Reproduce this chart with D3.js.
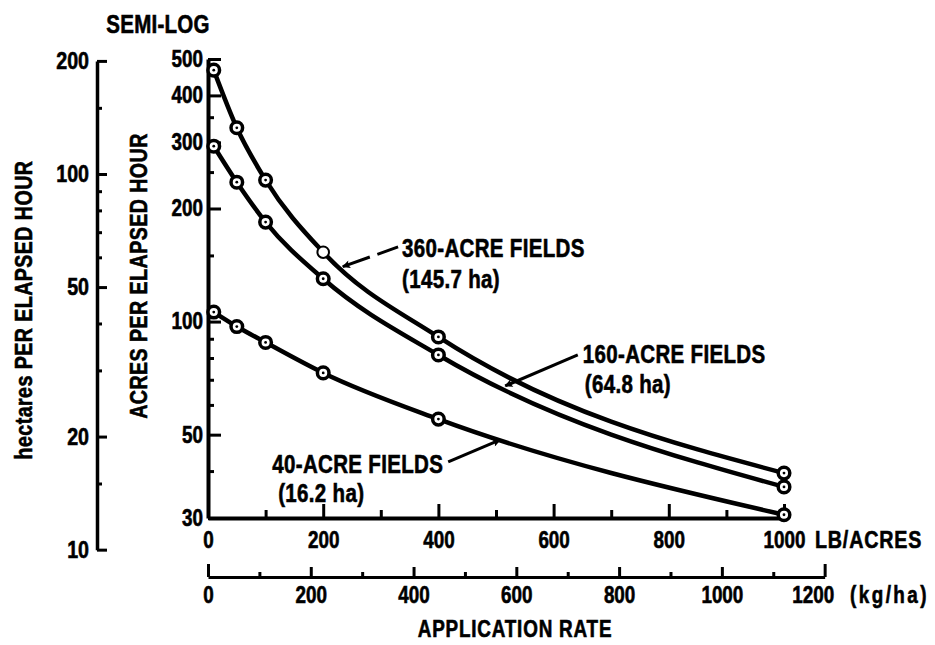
<!DOCTYPE html>
<html><head><meta charset="utf-8">
<script src="https://cdn.jsdelivr.net/npm/d3@7"></script>
<style>
body{margin:0;background:#fff}
svg text{font-family:"Liberation Sans","Arial",sans-serif;font-weight:bold;fill:#000;stroke:#000;stroke-width:0.6px}
</style></head><body>
<svg id="c" width="935" height="645"></svg>
<script>
// ---- data ----
const rates = [10, 50, 100, 200, 400, 1000];           // LB/ACRE
const acres360 = [467, 328, 238, 153, 91, 39.5];
const acres160 = [293, 235, 184, 130, 81.5, 36.3];
const acres40  = [106, 97, 88, 73, 55, 30.6];
const seriesNames = ["360-ACRE FIELDS", "160-ACRE FIELDS", "40-ACRE FIELDS"];
const seriesHa = ["(145.7 ha)", "(64.8 ha)", "(16.2 ha)"];
const yTickLabels = [30, 50, 100, 200, 300, 400, 500];
const yMinorTicks = [40, 60, 70, 80, 90, 150, 250, 350];
const haTickLabels = [10, 20, 50, 100, 200];
const haMinorTicks = [15, 30, 40, 60, 70, 80, 90, 150];
const lbTicks = [0, 200, 400, 600, 800, 1000];
const lbMinorTicks = [100, 300, 500, 700, 900];
const kgTicks = [0, 200, 400, 600, 800, 1000, 1200];
const kgMinorTicks = [100, 300, 500, 700, 900, 1100];
const HA_PER_ACRE = 0.4047;
const KG_PER_LB = 1.1209;
// annotation anchors in data units: [tipRate, tipAcres, tailRate, tailAcres]
const annot360 = [234, 140, 330, 158];
const annot160 = [516, 67.4, 642, 81.5];
const annot40  = [507, 48.4, 417, 42.3];

const SX = 0.82; // horizontal condensing of the bold sans to mimic a condensed face
const svg = d3.select("#c");
const x = d3.scaleLinear().domain([0, 1000]).range([208, 784]);
const y = d3.scaleLog().domain([30, 500]).range([518, 59]);
const yHa = d3.scaleLog().domain([10, 200]).range([y(10 / HA_PER_ACRE), y(200 / HA_PER_ACRE)]);
const xKg = d3.scaleLinear().domain([0, 1200]).range([x(0), x(1200 / KG_PER_LB)]);

function styleAxis(g, w) {
  g.selectAll("path.domain").attr("stroke", "#000").attr("stroke-width", w);
  g.selectAll(".tick line").attr("stroke", "#000").attr("stroke-width", 3);
}
function condense(sel) {
  sel.each(function () {
    const t = d3.select(this);
    const xx = +(t.attr("x") || 0);
    t.attr("x", xx / SX).attr("transform", `scale(${SX},1)`);
  });
}
function addText(px, py, str, size, ls, anchor, rot) {
  return svg.append("text")
    .attr("transform", `translate(${px},${py})${rot ? " rotate(" + rot + ")" : ""} scale(${SX},1)`)
    .attr("text-anchor", anchor || "start").attr("font-size", size)
    .attr("letter-spacing", ls).text(str);
}

// defs: arrowhead
svg.append("defs").append("marker").attr("id", "ah")
  .attr("viewBox", "0 0 10 10").attr("refX", 9).attr("refY", 5)
  .attr("markerWidth", 16).attr("markerHeight", 8).attr("markerUnits", "userSpaceOnUse")
  .attr("orient", "auto")
  .append("path").attr("d", "M0,0 L10,5 L0,10 L2,5 Z").attr("fill", "#000");

// ---- main y axis (acres) ----
const gy = svg.append("g").attr("transform", "translate(208,0)")
  .call(d3.axisRight(y).tickValues(yTickLabels).tickSize(13).tickSizeOuter(0).tickFormat(""));
styleAxis(gy, 4);
const gyMin = svg.append("g").attr("transform", "translate(208,0)")
  .call(d3.axisRight(y).tickValues(yMinorTicks).tickSize(6).tickFormat(""));
gyMin.select("path.domain").remove();
styleAxis(gyMin, 4);
const gyLab = svg.append("g").attr("transform", "translate(208,0)")
  .call(d3.axisLeft(y).tickValues(yTickLabels).tickSize(0).tickPadding(5).tickFormat(d3.format("d")));
gyLab.select("path.domain").remove();
gyLab.selectAll("text").attr("font-size", 23).attr("fill", "#000");
condense(gyLab.selectAll("text"));

// ---- left y axis (hectares) ----
const gh = svg.append("g").attr("transform", "translate(97,0)")
  .call(d3.axisRight(yHa).tickValues(haTickLabels).tickSize(10).tickSizeOuter(0).tickFormat(""));
styleAxis(gh, 3.5);
const ghMin = svg.append("g").attr("transform", "translate(97,0)")
  .call(d3.axisRight(yHa).tickValues(haMinorTicks).tickSize(5).tickFormat(""));
ghMin.select("path.domain").remove();
styleAxis(ghMin, 3.5);
const ghLab = svg.append("g").attr("transform", "translate(97,0)")
  .call(d3.axisLeft(yHa).tickValues(haTickLabels).tickSize(0).tickPadding(8).tickFormat(d3.format("d")));
ghLab.select("path.domain").remove();
ghLab.selectAll("text").attr("font-size", 24).attr("fill", "#000");
condense(ghLab.selectAll("text"));

// ---- x axis (LB/ACRES) ----
const gx = svg.append("g").attr("transform", "translate(0,518)")
  .call(d3.axisTop(x).tickValues(lbTicks.filter(d => d > 0)).tickSize(14).tickSizeOuter(0).tickFormat(""));
styleAxis(gx, 4);
const gxMin = svg.append("g").attr("transform", "translate(0,518)")
  .call(d3.axisTop(x).tickValues(lbMinorTicks).tickSize(8).tickFormat(""));
gxMin.select("path.domain").remove();
styleAxis(gxMin, 3);
const gxLab = svg.append("g").attr("transform", "translate(0,518)")
  .call(d3.axisBottom(x).tickValues(lbTicks).tickSize(0).tickPadding(14).tickFormat(d3.format("d")));
gxLab.select("path.domain").remove();
gxLab.selectAll("text").attr("font-size", 23).attr("fill", "#000");
condense(gxLab.selectAll("text"));
addText(815, 548, "LB/ACRES", 24, 1);

// ---- kg/ha axis ----
const gk = svg.append("g").attr("transform", "translate(0,577)")
  .call(d3.axisTop(xKg).tickValues(kgTicks).tickSize(10).tickSizeOuter(0).tickFormat(""));
styleAxis(gk, 3);
gk.selectAll(".tick line").filter(d => d === 0 || d === 1200).attr("y2", -13);
const gkMin = svg.append("g").attr("transform", "translate(0,577)")
  .call(d3.axisTop(xKg).tickValues(kgMinorTicks).tickSize(5).tickFormat(""));
gkMin.select("path.domain").remove();
styleAxis(gkMin, 3);
const gkLab = svg.append("g").attr("transform", "translate(0,577)")
  .call(d3.axisBottom(xKg).tickValues(kgTicks).tickSize(0).tickPadding(10).tickFormat(d3.format("d")));
gkLab.select("path.domain").remove();
gkLab.selectAll("text").attr("font-size", 23).attr("fill", "#000");
condense(gkLab.selectAll("text"));
// the last label sits slightly left of its tick in the original
gkLab.selectAll(".tick").filter(d => d === 1200).select("text").attr("dx", -12 / SX);
addText(850, 603, "(kg/ha)", 23, 3);
addText(515, 637, "APPLICATION RATE", 23, 1, "middle");

// ---- titles ----
addText(158, 33, "SEMI-LOG", 25, 0.3, "middle");
addText(147, 276, "ACRES PER ELAPSED HOUR", 24, 0.5, "middle", -90);
addText(32, 310, "hectares PER ELAPSED HOUR", 24, 0.5, "middle", -90);

// ---- curves ----
const series = [acres360, acres160, acres40];
const line = d3.line().x((d, i) => x(rates[i])).y(d => y(d)).curve(d3.curveMonotoneX);
svg.append("g").selectAll("path").data(series).join("path")
  .attr("d", d => line(d)).attr("fill", "none").attr("stroke", "#000")
  .attr("stroke-width", 4.5).attr("stroke-linejoin", "round");

// ---- markers ----
series.forEach((s, si) => {
  const g = svg.append("g");
  s.forEach((v, i) => {
    const hollow = si === 0 && rates[i] === 200;
    g.append("circle").attr("cx", x(rates[i])).attr("cy", y(v)).attr("r", 5.8)
      .attr("fill", "#fff").attr("stroke", "#000").attr("stroke-width", hollow ? 2 : 3.5);
    if (!hollow) g.append("circle").attr("cx", x(rates[i])).attr("cy", y(v)).attr("r", 1.4).attr("fill", "#000");
  });
});

// ---- annotations ----
function annotate(a, dashed, name, ha, dx1, dy1, dx2, dy2, anchor) {
  const tx = x(a[2]), ty = y(a[3]);
  const p = svg.append("line").attr("x1", tx).attr("y1", ty).attr("x2", x(a[0])).attr("y2", y(a[1]))
    .attr("stroke", "#000").attr("stroke-width", 3).attr("marker-end", "url(#ah)");
  if (dashed) p.attr("stroke-dasharray", "22,8,40");
  addText(tx + dx1, ty + dy1, name, 25, 0.4, anchor);
  addText(tx + dx2, ty + dy2, ha, 25, 0.4, "start");
}
annotate(annot360, true, seriesNames[0], seriesHa[0], 4, 10, 4, 41, "start");
annotate(annot160, false, seriesNames[1], seriesHa[1], 5, 8, 7, 38, "start");
annotate(annot40, false, seriesNames[2], seriesHa[2], -5, 11, -170, 40, "end");
</script>
</body></html>
